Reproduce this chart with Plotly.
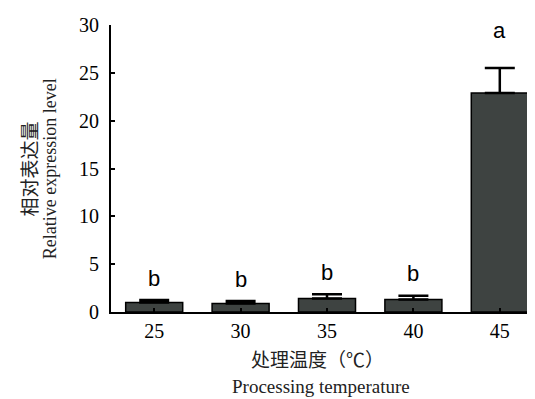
import plotly.graph_objects as go

categories = ["25", "30", "35", "40", "45"]
values = [1.0, 0.9, 1.4, 1.3, 22.9]
errors = [0.25, 0.25, 0.45, 0.4, 2.6]
letters = ["b", "b", "b", "b", "a"]
y_ticks = [0, 5, 10, 15, 20, 25, 30]

serif = "Liberation Serif, Times New Roman, serif"

fig = go.Figure()
fig.add_trace(go.Bar(
    x=list(range(len(categories))), y=values,
    width=0.66,
    marker=dict(color="#3e4341", line=dict(color="black", width=1.5)),
    error_y=dict(type="data", symmetric=False, array=errors,
                 arrayminus=[0] * len(errors),
                 color="black", thickness=2.5, width=15),
))

for i, (v, e, l) in enumerate(zip(values, errors, letters)):
    fig.add_annotation(x=i, y=v + e, xref="x", yref="y", text=l,
                       showarrow=False, yanchor="middle",
                       yshift=22 if v < 5 else 38,
                       font=dict(family="Liberation Sans, Arial, sans-serif",
                                 size=22, color="black"))

fig.update_layout(
    width=535, height=399,
    margin=dict(l=103, r=0, t=17, b=95),
    paper_bgcolor="white", plot_bgcolor="white",
    showlegend=False,
    font=dict(family=serif, size=20, color="black"),
)
fig.update_xaxes(
    range=[-0.5, 4.5], tickvals=list(range(len(categories))),
    ticktext=categories, showline=True, linecolor="black", linewidth=2,
    ticks="inside", ticklen=4, tickcolor="black", tickwidth=1.5,
    tickfont=dict(family=serif, size=20), showgrid=False, zeroline=False,
)
fig.update_yaxes(
    range=[0, 30], tickvals=y_ticks, showline=True, linecolor="black",
    linewidth=2, ticks="inside", ticklen=4, tickcolor="black", tickwidth=1.5,
    tickfont=dict(family=serif, size=20), showgrid=False, zeroline=False,
    ticklabelstandoff=6,
)

fig.add_annotation(xref="paper", yref="paper", x=-0.19, y=0.5,
                   xanchor="center", yanchor="middle",
                   text="相对表达量", textangle=-90, showarrow=False,
                   font=dict(family="Noto Sans CJK SC", size=19, color="#222"))
fig.add_annotation(xref="paper", yref="paper", x=-0.142, y=0.5,
                   xanchor="center", yanchor="middle",
                   text="Relative expression level", textangle=-90,
                   showarrow=False, font=dict(family=serif, size=18, color="#222"))
fig.add_annotation(xref="paper", yref="paper", x=0.479, y=-0.162,
                   xanchor="center", yanchor="middle",
                   text="处理温度（℃）", showarrow=False,
                   font=dict(family="Noto Sans CJK SC", size=19, color="#222"))
fig.add_annotation(xref="paper", yref="paper", x=0.485, y=-0.26,
                   xanchor="center", yanchor="middle",
                   text="Processing temperature", showarrow=False,
                   font=dict(family=serif, size=19, color="#222"))

fig.write_html("out.html")
